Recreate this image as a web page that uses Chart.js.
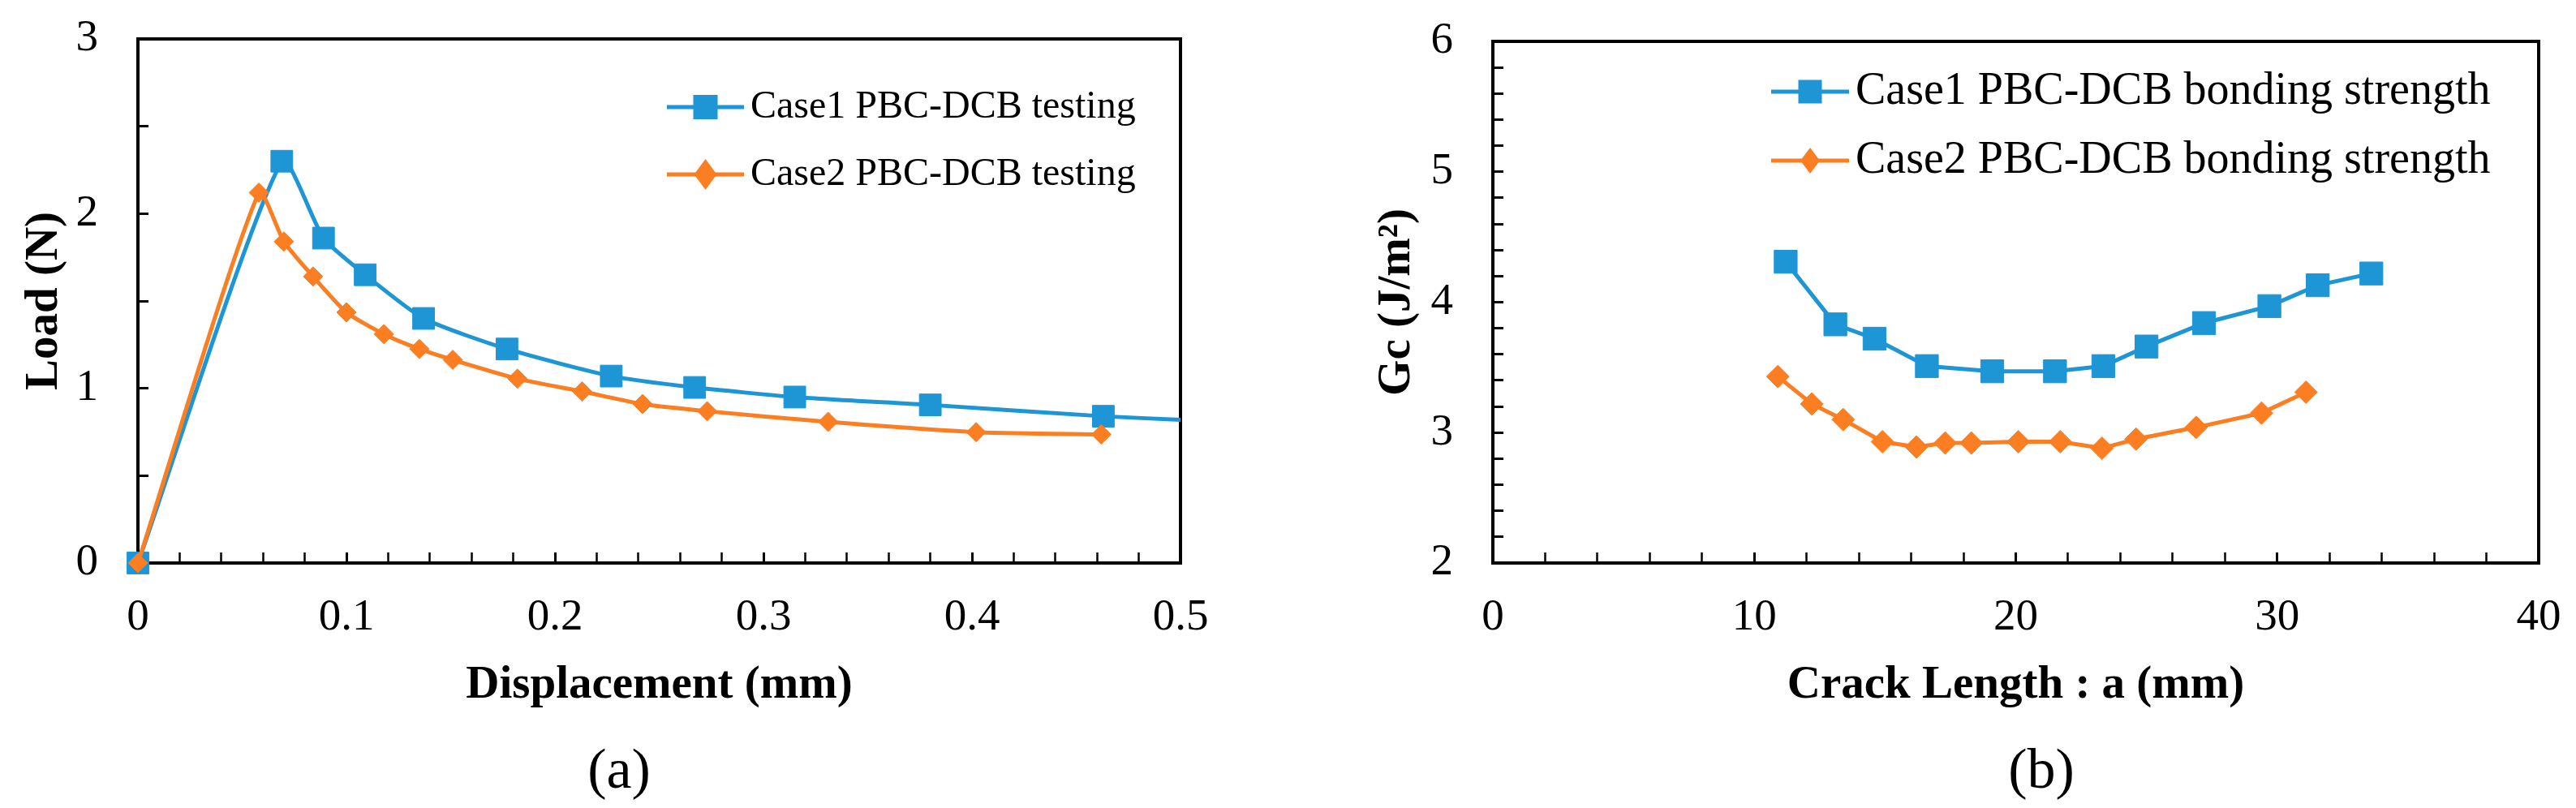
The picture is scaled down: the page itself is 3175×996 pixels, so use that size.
<!DOCTYPE html>
<html>
<head>
<meta charset="utf-8">
<script src="https://cdn.jsdelivr.net/npm/chart.js@4"></script>
<style>
  html, body { margin: 0; padding: 0; background: #fff; }
  #fig { position: relative; width: 3175px; height: 996px; background: #fff;
         font-family: "Liberation Serif", "Times New Roman", serif; color: #000; }
  #fig canvas { position: absolute; top: 0; }
  .sub { position: absolute; top: 948px; transform: translate(-50%, -50%);
         font-size: 70px; line-height: 1; white-space: nowrap; }
</style>
</head>
<body>
<div id="fig">
  <canvas id="chart-a" width="1600" height="996" style="left:0"></canvas>
  <canvas id="chart-b" width="1575" height="996" style="left:1600px"></canvas>
  <div class="sub" style="left:763px">(a)</div>
  <div class="sub" style="left:2516px">(b)</div>
</div>
<script>
// (a) load vs displacement
const dispCase1 = [0, 0.069, 0.089, 0.109, 0.137, 0.177, 0.227, 0.267, 0.315, 0.380, 0.463, 0.5];
const loadCase1 = [0, 2.30, 1.86, 1.65, 1.40, 1.225, 1.07, 1.005, 0.95, 0.905, 0.84, 0.82];
const dispCase2 = [0, 0.058, 0.070, 0.084, 0.100, 0.118, 0.135, 0.151, 0.182, 0.213, 0.242, 0.273, 0.331, 0.402, 0.462];
const loadCase2 = [0, 2.12, 1.84, 1.64, 1.435, 1.31, 1.225, 1.163, 1.055, 0.982, 0.91, 0.869, 0.808, 0.749, 0.736];

// (b) Gc vs crack length
const crackCase1 = [11.2, 13.1, 14.6, 16.6, 19.1, 21.5, 23.35, 25.0, 27.2, 29.7, 31.55, 33.6];
const gcCase1 = [4.31, 3.83, 3.72, 3.51, 3.47, 3.47, 3.51, 3.66, 3.84, 3.97, 4.13, 4.22];
const crackCase2 = [10.9, 12.2, 13.4, 14.9, 16.2, 17.3, 18.3, 20.1, 21.7, 23.3, 24.6, 26.9, 29.4, 31.1];
const gcCase2 = [3.43, 3.22, 3.10, 2.93, 2.89, 2.92, 2.92, 2.93, 2.93, 2.88, 2.95, 3.04, 3.15, 3.31];

// labelled ticks (minor ticks come from the step sizes)
const dispTicks = [0, 0.1, 0.2, 0.3, 0.4, 0.5];
const loadTicks = [0, 1, 2, 3];
const crackTicks = [0, 10, 20, 30, 40];
const gcTicks = [2, 3, 4, 5, 6];
const dispStep = 0.02, loadStep = 0.5, crackStep = 2, gcStep = 0.2;

const legendA = ["Case1 PBC-DCB testing", "Case2 PBC-DCB testing"];
const legendB = ["Case1 PBC-DCB bonding strength", "Case2 PBC-DCB bonding strength"];

const BLUE = "#1e96d6";
const ORANGE = "#fb7e22";
const SERIF = '"Liberation Serif", "Times New Roman", serif';

Chart.defaults.font.family = SERIF;
Chart.defaults.color = "#000";

const toPoints = (xs, ys) => xs.map((x, i) => ({ x, y: ys[i] }));

function tickLabel(list, fmt) {
  return (v) => (list.some((t) => Math.abs(t - v) < 1e-9) ? fmt(v) : "");
}

// box around the plot area, drawn under the markers
const framePlugin = {
  id: "frame",
  beforeDatasetsDraw(chart) {
    const { ctx, chartArea: a } = chart;
    ctx.save();
    ctx.strokeStyle = "#000";
    ctx.lineWidth = 4;
    ctx.strokeRect(a.left, a.top, a.right - a.left, a.bottom - a.top);
    ctx.restore();
  },
};

// legend inside the plot, Excel style: line with marker in the middle
const boxLegendPlugin = {
  id: "boxLegend",
  afterDatasetsDraw(chart, args, opts) {
    const ctx = chart.ctx;
    ctx.save();
    chart.data.datasets.forEach((ds, i) => {
      const y = opts.rows[i];
      const cx = (opts.x0 + opts.x1) / 2;
      ctx.strokeStyle = ds.borderColor;
      ctx.lineWidth = 5;
      ctx.beginPath();
      ctx.moveTo(opts.x0, y);
      ctx.lineTo(opts.x1, y);
      ctx.stroke();
      ctx.fillStyle = ds.borderColor;
      if (ds.pointStyle === "rect") {
        const s = opts.square;
        ctx.fillRect(cx - s / 2, y - s / 2, s, s);
      } else {
        const w = opts.diamond[0], h = opts.diamond[1];
        ctx.beginPath();
        ctx.moveTo(cx, y - h);
        ctx.lineTo(cx + w, y);
        ctx.lineTo(cx, y + h);
        ctx.lineTo(cx - w, y);
        ctx.closePath();
        ctx.fill();
      }
      ctx.fillStyle = "#000";
      ctx.font = opts.fontSize + "px " + SERIF;
      ctx.textBaseline = "middle";
      ctx.textAlign = "left";
      ctx.fillText(ds.label, opts.tx, y);
    });
    ctx.restore();
  },
};

function buildChart(id, g) {
  const ctx = document.getElementById(id).getContext("2d");
  return new Chart(ctx, {
    type: "line",
    data: { datasets: g.datasets },
    options: {
      responsive: false,
      animation: false,
      devicePixelRatio: 1,
      events: [],
      layout: { padding: { left: 0, top: g.top, right: g.right, bottom: 117 } },
      plugins: {
        legend: { display: false },
        tooltip: { enabled: false },
        boxLegend: g.legend,
      },
      scales: {
        x: {
          type: "linear",
          min: g.xTicks[0],
          max: g.xTicks[g.xTicks.length - 1],
          ticks: {
            stepSize: g.xStep,
            autoSkip: false,
            maxRotation: 0,
            padding: 48,
            font: { size: 55 },
            color: "#000",
            callback: tickLabel(g.xTicks, g.xFmt),
          },
          grid: {
            display: true,
            drawOnChartArea: false,
            drawTicks: true,
            tickLength: -13,
            tickColor: "#000",
            tickWidth: (c) => (g.xTicks.some((t) => Math.abs(t - c.tick.value) < 1e-9) ? 3 : 2.5),
          },
          border: { display: false },
          title: {
            display: true,
            text: g.xTitle,
            font: { size: 57, weight: "bold" },
            color: "#000",
            padding: { top: 0, bottom: 0 },
          },
          afterFit(s) {
            s.height = 185;
            s.paddingLeft = 0;
            s.paddingRight = 0;
          },
        },
        y: {
          type: "linear",
          min: g.yTicks[0],
          max: g.yTicks[g.yTicks.length - 1],
          ticks: {
            stepSize: g.yStep,
            autoSkip: false,
            padding: 62,
            font: { size: 55 },
            color: "#000",
            callback: tickLabel(g.yTicks, (v) => String(v)),
          },
          grid: {
            display: true,
            drawOnChartArea: false,
            drawTicks: true,
            tickLength: -13,
            tickColor: "#000",
            tickWidth: 3,
          },
          border: { display: false },
          title: {
            display: true,
            text: g.yTitle,
            font: { size: 57, weight: "bold" },
            color: "#000",
            padding: { top: g.yTitlePad, bottom: 0 },
          },
          afterFit(s) {
            s.width = g.yWidth;
            s.paddingTop = 0;
            s.paddingBottom = 0;
          },
        },
      },
    },
    plugins: [framePlugin, boxLegendPlugin],
  });
}

const chartA = buildChart("chart-a", {
  top: 48,
  right: 145,
  yWidth: 170,
  yTitlePad: 21,
  xTicks: dispTicks,
  xStep: dispStep,
  xFmt: (v) => String(Number(v.toFixed(1))),
  yTicks: loadTicks,
  yStep: loadStep,
  xTitle: "Displacement (mm)",
  yTitle: "Load (N)",
  legend: { x0: 822, x1: 917, tx: 925, rows: [132, 215], fontSize: 48, square: 30, diamond: [14, 19] },
  datasets: [
    {
      label: legendA[0],
      data: toPoints(dispCase1, loadCase1),
      borderColor: BLUE,
      backgroundColor: BLUE,
      borderWidth: 5,
      tension: 0.2,
      pointStyle: "rect",
      pointRadius: dispCase1.map((x) => (x >= 0.5 ? 0 : 19)),
      pointBorderWidth: 1,
      clip: 30,
      order: 1,
    },
    {
      label: legendA[1],
      data: toPoints(dispCase2, loadCase2),
      borderColor: ORANGE,
      backgroundColor: ORANGE,
      borderWidth: 5,
      tension: 0.2,
      pointStyle: "rectRot",
      pointRadius: 12,
      pointBorderWidth: 1,
      clip: 30,
      order: 0,
    },
  ],
});

const chartB = buildChart("chart-b", {
  top: 51,
  right: 46,
  yWidth: 240,
  yTitlePad: 88,
  xTicks: crackTicks,
  xStep: crackStep,
  xFmt: (v) => String(v),
  yTicks: gcTicks,
  yStep: gcStep,
  xTitle: "Crack Length : a (mm)",
  yTitle: "Gc (J/m\u00b2)",
  legend: { x0: 583, x1: 679, tx: 687, rows: [113, 198], fontSize: 56, square: 29, diamond: [12, 16] },
  datasets: [
    {
      label: legendB[0],
      data: toPoints(crackCase1, gcCase1),
      borderColor: BLUE,
      backgroundColor: BLUE,
      borderWidth: 5,
      tension: 0,
      pointStyle: "rect",
      pointRadius: 20,
      pointBorderWidth: 1,
      clip: 30,
      order: 1,
    },
    {
      label: legendB[1],
      data: toPoints(crackCase2, gcCase2),
      borderColor: ORANGE,
      backgroundColor: ORANGE,
      borderWidth: 5,
      tension: 0,
      pointStyle: "rectRot",
      pointRadius: 14,
      pointBorderWidth: 1,
      clip: 30,
      order: 0,
    },
  ],
});

// redraw once the serif faces are surely available to the canvas
if (document.fonts && document.fonts.load) {
  Promise.all([
    document.fonts.load("55px " + SERIF),
    document.fonts.load("bold 57px " + SERIF),
  ]).then(() => {
    chartA.update();
    chartB.update();
  }).catch(() => {});
}
</script>
</body>
</html>
